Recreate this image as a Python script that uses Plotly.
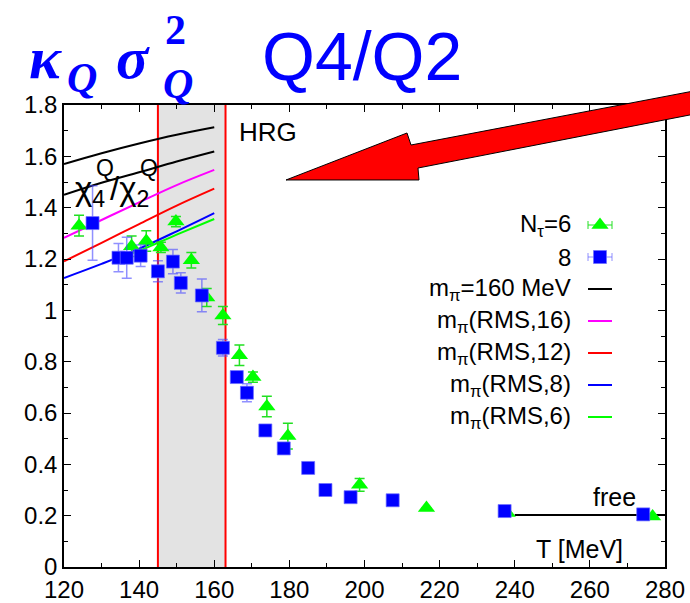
import plotly.graph_objects as go

# ---- lattice data: kappa_Q sigma_Q^2 = chi4^Q / chi2^Q ----
T_nt6 = [124.0, 138.0, 141.9, 145.8, 149.8, 153.9, 158.0, 162.3, 166.7, 170.3,
         174.0, 179.6, 198.7, 216.5, 238.0, 276.7]
R_nt6 = [1.33, 1.25, 1.27, 1.245, 1.346, 1.195, 1.05, 0.98, 0.825, 0.74,
         0.625, 0.51, 0.32, 0.23, 0.21, 0.197]
E_nt6 = [0.04, 0.04, 0.04, 0.02, 0.02, 0.03, 0.035, 0.035, 0.04, 0.02,
         0.04, 0.05, 0.025, 0.0, 0.0, 0.0]

T_nt8 = [127.6, 134.5, 136.7, 140.4, 145.0, 149.0, 151.1, 156.7, 162.3, 166.0,
         168.7, 173.6, 178.5, 185.0, 189.6, 196.3, 207.5, 237.3, 274.2]
R_nt8 = [1.34, 1.205, 1.205, 1.213, 1.152, 1.19, 1.107, 1.058, 0.854, 0.74,
         0.679, 0.532, 0.462, 0.386, 0.30, 0.272, 0.26, 0.218, 0.205]
E_nt8 = [0.145, 0.055, 0.08, 0.042, 0.041, 0.047, 0.039, 0.064, 0.032, 0.01,
         0.035, 0.0, 0.0, 0.01, 0.0, 0.0, 0.0, 0.0, 0.0]

# ---- HRG model curves ----
T_hrg = [120, 130, 140, 150, 160]
hrg_phys_a = [1.570, 1.612, 1.650, 1.684, 1.713]
hrg_phys_b = [1.450, 1.497, 1.538, 1.580, 1.619]
hrg_rms16 = [1.282, 1.352, 1.421, 1.488, 1.547]
hrg_rms12 = [1.191, 1.263, 1.336, 1.408, 1.474]
hrg_rms8 = [1.126, 1.181, 1.240, 1.308, 1.379]
T_hrg6 = [135, 140, 150, 160]
hrg_rms6 = [1.208, 1.232, 1.295, 1.356]

# free quark gas limit
T_free = [240, 280]
R_free = [0.203, 0.203]

# transition band
Tc_lo, Tc_hi = 145, 163

legend_labels = ["N<sub>τ</sub>=6", "8", "m<sub>π</sub>=160 MeV", "m<sub>π</sub>(RMS,16)",
                 "m<sub>π</sub>(RMS,12)", "m<sub>π</sub>(RMS,8)", "m<sub>π</sub>(RMS,6)"]

FONT = "Liberation Sans, Arial, sans-serif"
SERIF = "Liberation Serif, Times New Roman, serif"
BLUE = "#0000ff"
GREEN = "#00ff00"

# plot-area geometry in pixels
W, H = 690, 603
L, R, TOP, BOT = 64, 665, 105, 567


def px2x(p):
    return (p - L) / (R - L)


def py2y(p):
    return (BOT - p) / (BOT - TOP)


fig = go.Figure()

curves = [
    (T_hrg, hrg_phys_a, "black"),
    (T_hrg, hrg_phys_b, "black"),
    (T_hrg, hrg_rms16, "#ff00ff"),
    (T_hrg, hrg_rms12, "#ff0000"),
    (T_hrg, hrg_rms8, "#0000ff"),
    (T_hrg6, hrg_rms6, "#00ff00"),
]
for tx, ry, col in curves:
    fig.add_trace(go.Scatter(x=tx, y=ry, mode="lines", line=dict(color=col, width=2, shape="spline"),
                             hoverinfo="skip"))

fig.add_trace(go.Scatter(x=T_free, y=R_free, mode="lines", line=dict(color="black", width=2)))

fig.add_trace(go.Scatter(
    x=T_nt6, y=R_nt6, mode="markers",
    marker=dict(symbol="triangle-up", size=15, color=GREEN, line=dict(width=0)),
    error_y=dict(type="data", array=E_nt6, color="#22e022", thickness=1.5, width=5),
))
fig.add_trace(go.Scatter(
    x=T_nt8, y=R_nt8, mode="markers",
    marker=dict(symbol="square", size=13, color=BLUE, line=dict(color="rgba(110,110,255,0.7)", width=1)),
    error_y=dict(type="data", array=E_nt8, color="rgba(70,70,255,0.6)", thickness=1.5, width=5),
))

# legend samples on a pixel-space overlay axis
legend_rows = [225, 257, 289, 321, 353, 385, 417]
sx0, sx1, sxc = 588, 612, 600
fig.add_trace(go.Scatter(
    x=[sxc], y=[legend_rows[0]], xaxis="x2", yaxis="y2", mode="markers",
    marker=dict(symbol="triangle-up", size=15, color=GREEN),
    error_x=dict(type="constant", value=12, color="#22e022", thickness=1, width=4),
))
fig.add_trace(go.Scatter(
    x=[sxc], y=[legend_rows[1]], xaxis="x2", yaxis="y2", mode="markers",
    marker=dict(symbol="square", size=13, color=BLUE, line=dict(color="rgba(110,110,255,0.7)", width=1)),
    error_x=dict(type="constant", value=12, color="rgba(70,70,255,0.6)", thickness=1, width=4),
))
for row, col in zip(legend_rows[2:], ["black", "#ff00ff", "#ff0000", "#0000ff", "#00ff00"]):
    fig.add_trace(go.Scatter(x=[sx0, sx1], y=[row, row], xaxis="x2", yaxis="y2", mode="lines",
                             line=dict(color=col, width=2)))

shapes = [
    dict(type="rect", xref="x", yref="paper", x0=Tc_lo, x1=Tc_hi, y0=0, y1=1,
         fillcolor="#e3e3e3", line=dict(width=0), layer="below"),
    dict(type="line", xref="x", yref="paper", x0=Tc_lo, x1=Tc_lo, y0=0, y1=1,
         line=dict(color="#ff0000", width=2), layer="below"),
    dict(type="line", xref="x", yref="paper", x0=Tc_hi, x1=Tc_hi, y0=0, y1=1,
         line=dict(color="#ff0000", width=2), layer="below"),
]

# big red arrow pointing at the HRG curves
arrow_px = [(286, 180), (407, 133), (411, 145), (700, 89.8), (700, 113), (418, 168), (419, 180)]
path = "M " + " L ".join(f"{px2x(a):.4f},{py2y(b):.4f}" for a, b in arrow_px) + " Z"
shapes.append(dict(type="path", xref="paper", yref="paper", path=path,
                   fillcolor="#ff0000", line=dict(color="black", width=1), layer="above"))

annotations = []


def ann(text, px, py, size, xanchor="left", yanchor="middle", family=FONT, color="black"):
    annotations.append(dict(text=text, x=px2x(px), y=py2y(py), xref="paper", yref="paper",
                            xanchor=xanchor, yanchor=yanchor, showarrow=False,
                            font=dict(family=family, size=size, color=color)))


for row, lab in zip(legend_rows, legend_labels):
    ann(lab, 573, row, 24, xanchor="right")

ann("HRG", 237, 132, 26)
ann("free", 591, 497, 25)
ann("T [MeV]", 534, 549, 25)

# chi4/chi2 label
ann("χ<sub>4</sub>", 73, 191, 33)
ann("Q", 94, 168, 23)
ann("/χ<sub>2</sub>", 108, 191, 33)
ann("Q", 138, 168, 23)

# title
ann("<b><i>κ</i></b>", 27, 58, 60, family=SERIF, color=BLUE)
ann("<b><i>Q</i></b>", 65, 78, 42, family=SERIF, color=BLUE)
ann("<b><i>σ</i></b>", 114, 58, 60, family=SERIF, color=BLUE)
ann("<b>2</b>", 163, 30, 42, family=SERIF, color=BLUE)
ann("<b><i>Q</i></b>", 161, 84, 42, family=SERIF, color=BLUE)
ann("Q4/Q2", 260, 56, 68, color=BLUE)

axis_common = dict(
    ticks="inside", ticklen=7, tickwidth=1, tickcolor="black",
    showline=True, linecolor="black", linewidth=1.5, mirror="allticks",
    showgrid=False, zeroline=False, automargin=False,
    tickfont=dict(family=FONT, size=24, color="black"),
)

fig.update_layout(
    width=W, height=H,
    margin=dict(l=L, r=W - R, t=TOP, b=H - BOT, autoexpand=False),
    plot_bgcolor="white", paper_bgcolor="white",
    showlegend=False,
    xaxis=dict(range=[120, 280], tick0=120, dtick=20,
               minor=dict(dtick=10, ticklen=4, ticks="inside", tickcolor="black", showgrid=False),
               **axis_common),
    yaxis=dict(range=[0, 1.8], tick0=0, dtick=0.2,
               minor=dict(dtick=0.1, ticklen=4, ticks="inside", tickcolor="black", showgrid=False),
               **axis_common),
    xaxis2=dict(overlaying="x", range=[L, R], visible=False),
    yaxis2=dict(overlaying="y", range=[BOT, TOP], visible=False),
    shapes=shapes,
    annotations=annotations,
)

fig.write_html("out.html")
